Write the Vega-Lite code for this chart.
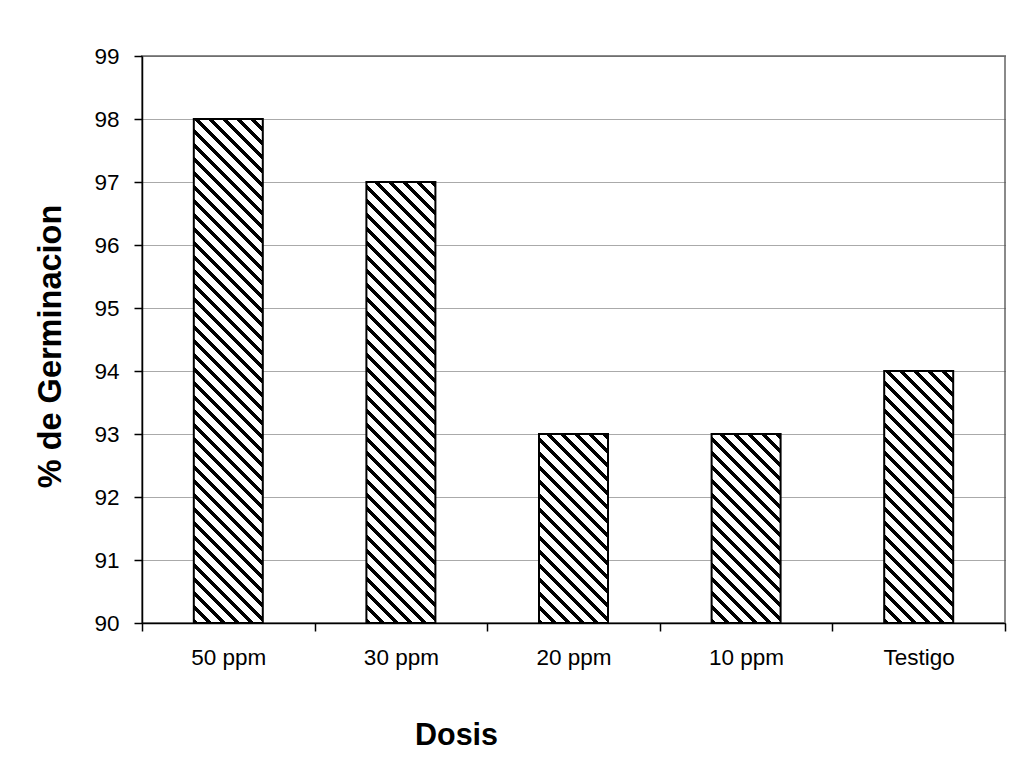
{
"$schema": "https://vega.github.io/schema/vega-lite/v6.json",
"autosize": "none",
"padding": {"left": 142, "top": 56, "right": 12, "bottom": 146},
"width": 863,
"height": 567,
"background": "white",
"config": {
  "font": "Liberation Sans",
  "view": {"stroke": "#8a8a8a", "strokeWidth": 2}
},
"data": {"values": [
  {"dosis": "50 ppm", "germ": 98},
  {"dosis": "30 ppm", "germ": 97},
  {"dosis": "20 ppm", "germ": 93},
  {"dosis": "10 ppm", "germ": 93},
  {"dosis": "Testigo", "germ": 94}
]},
"mark": {"type": "bar", "width": 69, "stroke": "#000", "strokeWidth": 2},
"encoding": {
  "x": {"field": "dosis", "type": "nominal", "sort": null,
    "scale": {"paddingInner": 0, "paddingOuter": 0},
    "axis": {"title": "Dosis", "labelAngle": 0, "tickBand": "extent", "tickSize": 8, "labelPadding": 33, "labelBaseline": "alphabetic", "labelFontSize": 22.5, "labelColor": "#000", "domainColor": "#000", "domainWidth": 1.5, "tickColor": "#000", "tickWidth": 1.5, "grid": false, "titleFontSize": 30.5, "titleFontWeight": "bold", "titleColor": "#000", "titleX": 314, "titleY": 121, "titleAlign": "center", "titleBaseline": "alphabetic"}},
  "y": {"field": "germ", "type": "quantitative",
    "scale": {"domain": [90, 99], "zero": false, "nice": false},
    "axis": {"title": "% de Germinacion", "values": [90, 91, 92, 93, 94, 95, 96, 97, 98, 99], "tickSize": 8, "labelPadding": 15, "labelFontSize": 22.5, "labelColor": "#000", "domainColor": "#000", "domainWidth": 1.5, "tickColor": "#000", "tickWidth": 1.5, "grid": true, "gridColor": "#555", "gridDash": [1, 1], "gridWidth": 1, "titleFontSize": 32.5, "titleFontWeight": "bold", "titleColor": "#000", "titleX": -92, "titleY": 290, "titleAngle": -90, "titleAlign": "center", "titleBaseline": "middle"}},
  "y2": {"datum": 90},
  "fill": {
    "condition": [
      {"test": "datum.dosis === '50 ppm'", "value": {"gradient": "linear", "x1": 0, "y1": 1, "x2": 0.186647, "y2": -0.363335, "stops": [
{"offset":0,"color":"#000"},{"offset":0.007,"color":"#000"},{"offset":0.007,"color":"#fff"},{"offset":0.02,"color":"#fff"},
{"offset":0.02,"color":"#000"},{"offset":0.027,"color":"#000"},{"offset":0.027,"color":"#fff"},{"offset":0.04,"color":"#fff"},
{"offset":0.04,"color":"#000"},{"offset":0.047,"color":"#000"},{"offset":0.047,"color":"#fff"},{"offset":0.06,"color":"#fff"},
{"offset":0.06,"color":"#000"},{"offset":0.067,"color":"#000"},{"offset":0.067,"color":"#fff"},{"offset":0.08,"color":"#fff"},
{"offset":0.08,"color":"#000"},{"offset":0.087,"color":"#000"},{"offset":0.087,"color":"#fff"},{"offset":0.1,"color":"#fff"},
{"offset":0.1,"color":"#000"},{"offset":0.107,"color":"#000"},{"offset":0.107,"color":"#fff"},{"offset":0.12,"color":"#fff"},
{"offset":0.12,"color":"#000"},{"offset":0.127,"color":"#000"},{"offset":0.127,"color":"#fff"},{"offset":0.14,"color":"#fff"},
{"offset":0.14,"color":"#000"},{"offset":0.147,"color":"#000"},{"offset":0.147,"color":"#fff"},{"offset":0.16,"color":"#fff"},
{"offset":0.16,"color":"#000"},{"offset":0.167,"color":"#000"},{"offset":0.167,"color":"#fff"},{"offset":0.18,"color":"#fff"},
{"offset":0.18,"color":"#000"},{"offset":0.187,"color":"#000"},{"offset":0.187,"color":"#fff"},{"offset":0.2,"color":"#fff"},
{"offset":0.2,"color":"#000"},{"offset":0.207,"color":"#000"},{"offset":0.207,"color":"#fff"},{"offset":0.22,"color":"#fff"},
{"offset":0.22,"color":"#000"},{"offset":0.227,"color":"#000"},{"offset":0.227,"color":"#fff"},{"offset":0.24,"color":"#fff"},
{"offset":0.24,"color":"#000"},{"offset":0.247,"color":"#000"},{"offset":0.247,"color":"#fff"},{"offset":0.26,"color":"#fff"},
{"offset":0.26,"color":"#000"},{"offset":0.267,"color":"#000"},{"offset":0.267,"color":"#fff"},{"offset":0.28,"color":"#fff"},
{"offset":0.28,"color":"#000"},{"offset":0.287,"color":"#000"},{"offset":0.287,"color":"#fff"},{"offset":0.3,"color":"#fff"},
{"offset":0.3,"color":"#000"},{"offset":0.307,"color":"#000"},{"offset":0.307,"color":"#fff"},{"offset":0.32,"color":"#fff"},
{"offset":0.32,"color":"#000"},{"offset":0.327,"color":"#000"},{"offset":0.327,"color":"#fff"},{"offset":0.34,"color":"#fff"},
{"offset":0.34,"color":"#000"},{"offset":0.347,"color":"#000"},{"offset":0.347,"color":"#fff"},{"offset":0.36,"color":"#fff"},
{"offset":0.36,"color":"#000"},{"offset":0.367,"color":"#000"},{"offset":0.367,"color":"#fff"},{"offset":0.38,"color":"#fff"},
{"offset":0.38,"color":"#000"},{"offset":0.387,"color":"#000"},{"offset":0.387,"color":"#fff"},{"offset":0.4,"color":"#fff"},
{"offset":0.4,"color":"#000"},{"offset":0.407,"color":"#000"},{"offset":0.407,"color":"#fff"},{"offset":0.42,"color":"#fff"},
{"offset":0.42,"color":"#000"},{"offset":0.427,"color":"#000"},{"offset":0.427,"color":"#fff"},{"offset":0.44,"color":"#fff"},
{"offset":0.44,"color":"#000"},{"offset":0.447,"color":"#000"},{"offset":0.447,"color":"#fff"},{"offset":0.46,"color":"#fff"},
{"offset":0.46,"color":"#000"},{"offset":0.467,"color":"#000"},{"offset":0.467,"color":"#fff"},{"offset":0.48,"color":"#fff"},
{"offset":0.48,"color":"#000"},{"offset":0.487,"color":"#000"},{"offset":0.487,"color":"#fff"},{"offset":0.5,"color":"#fff"},
{"offset":0.5,"color":"#000"},{"offset":0.507,"color":"#000"},{"offset":0.507,"color":"#fff"},{"offset":0.52,"color":"#fff"},
{"offset":0.52,"color":"#000"},{"offset":0.527,"color":"#000"},{"offset":0.527,"color":"#fff"},{"offset":0.54,"color":"#fff"},
{"offset":0.54,"color":"#000"},{"offset":0.547,"color":"#000"},{"offset":0.547,"color":"#fff"},{"offset":0.56,"color":"#fff"},
{"offset":0.56,"color":"#000"},{"offset":0.567,"color":"#000"},{"offset":0.567,"color":"#fff"},{"offset":0.58,"color":"#fff"},
{"offset":0.58,"color":"#000"},{"offset":0.587,"color":"#000"},{"offset":0.587,"color":"#fff"},{"offset":0.6,"color":"#fff"},
{"offset":0.6,"color":"#000"},{"offset":0.607,"color":"#000"},{"offset":0.607,"color":"#fff"},{"offset":0.62,"color":"#fff"},
{"offset":0.62,"color":"#000"},{"offset":0.627,"color":"#000"},{"offset":0.627,"color":"#fff"},{"offset":0.64,"color":"#fff"},
{"offset":0.64,"color":"#000"},{"offset":0.647,"color":"#000"},{"offset":0.647,"color":"#fff"},{"offset":0.66,"color":"#fff"},
{"offset":0.66,"color":"#000"},{"offset":0.667,"color":"#000"},{"offset":0.667,"color":"#fff"},{"offset":0.68,"color":"#fff"},
{"offset":0.68,"color":"#000"},{"offset":0.687,"color":"#000"},{"offset":0.687,"color":"#fff"},{"offset":0.7,"color":"#fff"},
{"offset":0.7,"color":"#000"},{"offset":0.707,"color":"#000"},{"offset":0.707,"color":"#fff"},{"offset":0.72,"color":"#fff"},
{"offset":0.72,"color":"#000"},{"offset":0.727,"color":"#000"},{"offset":0.727,"color":"#fff"},{"offset":0.74,"color":"#fff"},
{"offset":0.74,"color":"#000"},{"offset":0.747,"color":"#000"},{"offset":0.747,"color":"#fff"},{"offset":0.76,"color":"#fff"},
{"offset":0.76,"color":"#000"},{"offset":0.767,"color":"#000"},{"offset":0.767,"color":"#fff"},{"offset":0.78,"color":"#fff"},
{"offset":0.78,"color":"#000"},{"offset":0.787,"color":"#000"},{"offset":0.787,"color":"#fff"},{"offset":0.8,"color":"#fff"},
{"offset":0.8,"color":"#000"},{"offset":0.807,"color":"#000"},{"offset":0.807,"color":"#fff"},{"offset":0.82,"color":"#fff"}
      ]}},
      {"test": "datum.dosis === '30 ppm'", "value": {"gradient": "linear", "x1": 0, "y1": 1, "x2": 0.242418, "y2": -0.54937, "stops": [
{"offset":0,"color":"#000"},{"offset":0.007,"color":"#000"},{"offset":0.007,"color":"#fff"},{"offset":0.02,"color":"#fff"},
{"offset":0.02,"color":"#000"},{"offset":0.027,"color":"#000"},{"offset":0.027,"color":"#fff"},{"offset":0.04,"color":"#fff"},
{"offset":0.04,"color":"#000"},{"offset":0.047,"color":"#000"},{"offset":0.047,"color":"#fff"},{"offset":0.06,"color":"#fff"},
{"offset":0.06,"color":"#000"},{"offset":0.067,"color":"#000"},{"offset":0.067,"color":"#fff"},{"offset":0.08,"color":"#fff"},
{"offset":0.08,"color":"#000"},{"offset":0.087,"color":"#000"},{"offset":0.087,"color":"#fff"},{"offset":0.1,"color":"#fff"},
{"offset":0.1,"color":"#000"},{"offset":0.107,"color":"#000"},{"offset":0.107,"color":"#fff"},{"offset":0.12,"color":"#fff"},
{"offset":0.12,"color":"#000"},{"offset":0.127,"color":"#000"},{"offset":0.127,"color":"#fff"},{"offset":0.14,"color":"#fff"},
{"offset":0.14,"color":"#000"},{"offset":0.147,"color":"#000"},{"offset":0.147,"color":"#fff"},{"offset":0.16,"color":"#fff"},
{"offset":0.16,"color":"#000"},{"offset":0.167,"color":"#000"},{"offset":0.167,"color":"#fff"},{"offset":0.18,"color":"#fff"},
{"offset":0.18,"color":"#000"},{"offset":0.187,"color":"#000"},{"offset":0.187,"color":"#fff"},{"offset":0.2,"color":"#fff"},
{"offset":0.2,"color":"#000"},{"offset":0.207,"color":"#000"},{"offset":0.207,"color":"#fff"},{"offset":0.22,"color":"#fff"},
{"offset":0.22,"color":"#000"},{"offset":0.227,"color":"#000"},{"offset":0.227,"color":"#fff"},{"offset":0.24,"color":"#fff"},
{"offset":0.24,"color":"#000"},{"offset":0.247,"color":"#000"},{"offset":0.247,"color":"#fff"},{"offset":0.26,"color":"#fff"},
{"offset":0.26,"color":"#000"},{"offset":0.267,"color":"#000"},{"offset":0.267,"color":"#fff"},{"offset":0.28,"color":"#fff"},
{"offset":0.28,"color":"#000"},{"offset":0.287,"color":"#000"},{"offset":0.287,"color":"#fff"},{"offset":0.3,"color":"#fff"},
{"offset":0.3,"color":"#000"},{"offset":0.307,"color":"#000"},{"offset":0.307,"color":"#fff"},{"offset":0.32,"color":"#fff"},
{"offset":0.32,"color":"#000"},{"offset":0.327,"color":"#000"},{"offset":0.327,"color":"#fff"},{"offset":0.34,"color":"#fff"},
{"offset":0.34,"color":"#000"},{"offset":0.347,"color":"#000"},{"offset":0.347,"color":"#fff"},{"offset":0.36,"color":"#fff"},
{"offset":0.36,"color":"#000"},{"offset":0.367,"color":"#000"},{"offset":0.367,"color":"#fff"},{"offset":0.38,"color":"#fff"},
{"offset":0.38,"color":"#000"},{"offset":0.387,"color":"#000"},{"offset":0.387,"color":"#fff"},{"offset":0.4,"color":"#fff"},
{"offset":0.4,"color":"#000"},{"offset":0.407,"color":"#000"},{"offset":0.407,"color":"#fff"},{"offset":0.42,"color":"#fff"},
{"offset":0.42,"color":"#000"},{"offset":0.427,"color":"#000"},{"offset":0.427,"color":"#fff"},{"offset":0.44,"color":"#fff"},
{"offset":0.44,"color":"#000"},{"offset":0.447,"color":"#000"},{"offset":0.447,"color":"#fff"},{"offset":0.46,"color":"#fff"},
{"offset":0.46,"color":"#000"},{"offset":0.467,"color":"#000"},{"offset":0.467,"color":"#fff"},{"offset":0.48,"color":"#fff"},
{"offset":0.48,"color":"#000"},{"offset":0.487,"color":"#000"},{"offset":0.487,"color":"#fff"},{"offset":0.5,"color":"#fff"},
{"offset":0.5,"color":"#000"},{"offset":0.507,"color":"#000"},{"offset":0.507,"color":"#fff"},{"offset":0.52,"color":"#fff"},
{"offset":0.52,"color":"#000"},{"offset":0.527,"color":"#000"},{"offset":0.527,"color":"#fff"},{"offset":0.54,"color":"#fff"},
{"offset":0.54,"color":"#000"},{"offset":0.547,"color":"#000"},{"offset":0.547,"color":"#fff"},{"offset":0.56,"color":"#fff"},
{"offset":0.56,"color":"#000"},{"offset":0.567,"color":"#000"},{"offset":0.567,"color":"#fff"},{"offset":0.58,"color":"#fff"},
{"offset":0.58,"color":"#000"},{"offset":0.587,"color":"#000"},{"offset":0.587,"color":"#fff"},{"offset":0.6,"color":"#fff"},
{"offset":0.6,"color":"#000"},{"offset":0.607,"color":"#000"},{"offset":0.607,"color":"#fff"},{"offset":0.62,"color":"#fff"},
{"offset":0.62,"color":"#000"},{"offset":0.627,"color":"#000"},{"offset":0.627,"color":"#fff"},{"offset":0.64,"color":"#fff"},
{"offset":0.64,"color":"#000"},{"offset":0.647,"color":"#000"},{"offset":0.647,"color":"#fff"},{"offset":0.66,"color":"#fff"},
{"offset":0.66,"color":"#000"},{"offset":0.667,"color":"#000"},{"offset":0.667,"color":"#fff"},{"offset":0.68,"color":"#fff"},
{"offset":0.68,"color":"#000"},{"offset":0.687,"color":"#000"},{"offset":0.687,"color":"#fff"},{"offset":0.7,"color":"#fff"},
{"offset":0.7,"color":"#000"},{"offset":0.707,"color":"#000"},{"offset":0.707,"color":"#fff"},{"offset":0.72,"color":"#fff"},
{"offset":0.72,"color":"#000"},{"offset":0.727,"color":"#000"},{"offset":0.727,"color":"#fff"},{"offset":0.74,"color":"#fff"}
      ]}},
      {"test": "datum.dosis === 'Testigo'", "value": {"gradient": "linear", "x1": 0, "y1": 1, "x2": 0.707537, "y2": -1.584048, "stops": [
{"offset":0,"color":"#000"},{"offset":0.007,"color":"#000"},{"offset":0.007,"color":"#fff"},{"offset":0.02,"color":"#fff"},
{"offset":0.02,"color":"#000"},{"offset":0.027,"color":"#000"},{"offset":0.027,"color":"#fff"},{"offset":0.04,"color":"#fff"},
{"offset":0.04,"color":"#000"},{"offset":0.047,"color":"#000"},{"offset":0.047,"color":"#fff"},{"offset":0.06,"color":"#fff"},
{"offset":0.06,"color":"#000"},{"offset":0.067,"color":"#000"},{"offset":0.067,"color":"#fff"},{"offset":0.08,"color":"#fff"},
{"offset":0.08,"color":"#000"},{"offset":0.087,"color":"#000"},{"offset":0.087,"color":"#fff"},{"offset":0.1,"color":"#fff"},
{"offset":0.1,"color":"#000"},{"offset":0.107,"color":"#000"},{"offset":0.107,"color":"#fff"},{"offset":0.12,"color":"#fff"},
{"offset":0.12,"color":"#000"},{"offset":0.127,"color":"#000"},{"offset":0.127,"color":"#fff"},{"offset":0.14,"color":"#fff"},
{"offset":0.14,"color":"#000"},{"offset":0.147,"color":"#000"},{"offset":0.147,"color":"#fff"},{"offset":0.16,"color":"#fff"},
{"offset":0.16,"color":"#000"},{"offset":0.167,"color":"#000"},{"offset":0.167,"color":"#fff"},{"offset":0.18,"color":"#fff"},
{"offset":0.18,"color":"#000"},{"offset":0.187,"color":"#000"},{"offset":0.187,"color":"#fff"},{"offset":0.2,"color":"#fff"},
{"offset":0.2,"color":"#000"},{"offset":0.207,"color":"#000"},{"offset":0.207,"color":"#fff"},{"offset":0.22,"color":"#fff"},
{"offset":0.22,"color":"#000"},{"offset":0.227,"color":"#000"},{"offset":0.227,"color":"#fff"},{"offset":0.24,"color":"#fff"},
{"offset":0.24,"color":"#000"},{"offset":0.247,"color":"#000"},{"offset":0.247,"color":"#fff"},{"offset":0.26,"color":"#fff"},
{"offset":0.26,"color":"#000"},{"offset":0.267,"color":"#000"},{"offset":0.267,"color":"#fff"},{"offset":0.28,"color":"#fff"},
{"offset":0.28,"color":"#000"},{"offset":0.287,"color":"#000"},{"offset":0.287,"color":"#fff"},{"offset":0.3,"color":"#fff"},
{"offset":0.3,"color":"#000"},{"offset":0.307,"color":"#000"},{"offset":0.307,"color":"#fff"},{"offset":0.32,"color":"#fff"},
{"offset":0.32,"color":"#000"},{"offset":0.327,"color":"#000"},{"offset":0.327,"color":"#fff"},{"offset":0.34,"color":"#fff"},
{"offset":0.34,"color":"#000"},{"offset":0.347,"color":"#000"},{"offset":0.347,"color":"#fff"},{"offset":0.36,"color":"#fff"},
{"offset":0.36,"color":"#000"},{"offset":0.367,"color":"#000"},{"offset":0.367,"color":"#fff"},{"offset":0.38,"color":"#fff"},
{"offset":0.38,"color":"#000"},{"offset":0.387,"color":"#000"},{"offset":0.387,"color":"#fff"},{"offset":0.4,"color":"#fff"},
{"offset":0.4,"color":"#000"},{"offset":0.407,"color":"#000"},{"offset":0.407,"color":"#fff"},{"offset":0.42,"color":"#fff"},
{"offset":0.42,"color":"#000"},{"offset":0.427,"color":"#000"},{"offset":0.427,"color":"#fff"},{"offset":0.44,"color":"#fff"},
{"offset":0.44,"color":"#000"},{"offset":0.447,"color":"#000"},{"offset":0.447,"color":"#fff"},{"offset":0.46,"color":"#fff"}
      ]}}
    ],
    "value": {"gradient": "linear", "x1": 0, "y1": 1, "x2": 1.193123, "y2": -2.268112, "stops": [
{"offset":0,"color":"#000"},{"offset":0.007,"color":"#000"},{"offset":0.007,"color":"#fff"},{"offset":0.02,"color":"#fff"},
{"offset":0.02,"color":"#000"},{"offset":0.027,"color":"#000"},{"offset":0.027,"color":"#fff"},{"offset":0.04,"color":"#fff"},
{"offset":0.04,"color":"#000"},{"offset":0.047,"color":"#000"},{"offset":0.047,"color":"#fff"},{"offset":0.06,"color":"#fff"},
{"offset":0.06,"color":"#000"},{"offset":0.067,"color":"#000"},{"offset":0.067,"color":"#fff"},{"offset":0.08,"color":"#fff"},
{"offset":0.08,"color":"#000"},{"offset":0.087,"color":"#000"},{"offset":0.087,"color":"#fff"},{"offset":0.1,"color":"#fff"},
{"offset":0.1,"color":"#000"},{"offset":0.107,"color":"#000"},{"offset":0.107,"color":"#fff"},{"offset":0.12,"color":"#fff"},
{"offset":0.12,"color":"#000"},{"offset":0.127,"color":"#000"},{"offset":0.127,"color":"#fff"},{"offset":0.14,"color":"#fff"},
{"offset":0.14,"color":"#000"},{"offset":0.147,"color":"#000"},{"offset":0.147,"color":"#fff"},{"offset":0.16,"color":"#fff"},
{"offset":0.16,"color":"#000"},{"offset":0.167,"color":"#000"},{"offset":0.167,"color":"#fff"},{"offset":0.18,"color":"#fff"},
{"offset":0.18,"color":"#000"},{"offset":0.187,"color":"#000"},{"offset":0.187,"color":"#fff"},{"offset":0.2,"color":"#fff"},
{"offset":0.2,"color":"#000"},{"offset":0.207,"color":"#000"},{"offset":0.207,"color":"#fff"},{"offset":0.22,"color":"#fff"},
{"offset":0.22,"color":"#000"},{"offset":0.227,"color":"#000"},{"offset":0.227,"color":"#fff"},{"offset":0.24,"color":"#fff"},
{"offset":0.24,"color":"#000"},{"offset":0.247,"color":"#000"},{"offset":0.247,"color":"#fff"},{"offset":0.26,"color":"#fff"},
{"offset":0.26,"color":"#000"},{"offset":0.267,"color":"#000"},{"offset":0.267,"color":"#fff"},{"offset":0.28,"color":"#fff"},
{"offset":0.28,"color":"#000"},{"offset":0.287,"color":"#000"},{"offset":0.287,"color":"#fff"},{"offset":0.3,"color":"#fff"},
{"offset":0.3,"color":"#000"},{"offset":0.307,"color":"#000"},{"offset":0.307,"color":"#fff"},{"offset":0.32,"color":"#fff"},
{"offset":0.32,"color":"#000"},{"offset":0.327,"color":"#000"},{"offset":0.327,"color":"#fff"},{"offset":0.34,"color":"#fff"},
{"offset":0.34,"color":"#000"},{"offset":0.347,"color":"#000"},{"offset":0.347,"color":"#fff"},{"offset":0.36,"color":"#fff"},
{"offset":0.36,"color":"#000"},{"offset":0.367,"color":"#000"},{"offset":0.367,"color":"#fff"},{"offset":0.38,"color":"#fff"}
    ]}
  }
}
}
